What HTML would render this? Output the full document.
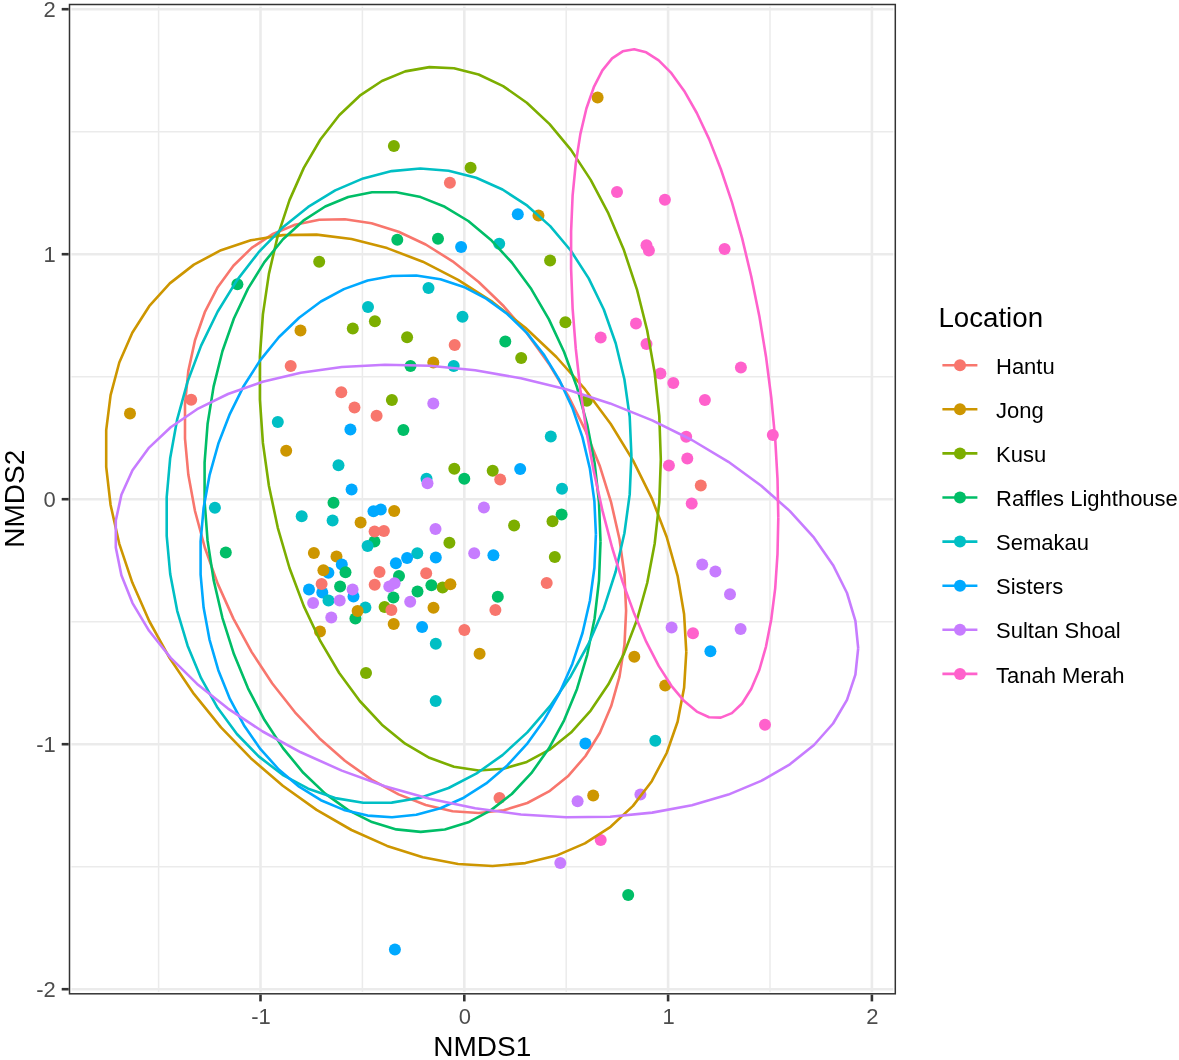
<!DOCTYPE html><html><head><meta charset="utf-8"><title>NMDS</title><style>html,body{margin:0;padding:0;background:#fff}svg{display:block}text{font-family:"Liberation Sans",Arial,Helvetica,sans-serif}</style></head><body>
<svg width="1179" height="1060" viewBox="0 0 1179 1060">
<rect width="1179" height="1060" fill="#fff"/>
<defs><clipPath id="cp"><rect x="69.5" y="4.5" width="825.8" height="989.3"/></clipPath></defs>
<g clip-path="url(#cp)">
<g stroke="#ebebeb" stroke-width="1.5" fill="none">
<line x1="158.6" y1="4.5" x2="158.6" y2="993.9"/>
<line x1="69.5" y1="866.7" x2="895.3" y2="866.7"/>
<line x1="362.4" y1="4.5" x2="362.4" y2="993.9"/>
<line x1="69.5" y1="621.7" x2="895.3" y2="621.7"/>
<line x1="566.2" y1="4.5" x2="566.2" y2="993.9"/>
<line x1="69.5" y1="376.7" x2="895.3" y2="376.7"/>
<line x1="770.0" y1="4.5" x2="770.0" y2="993.9"/>
<line x1="69.5" y1="131.7" x2="895.3" y2="131.7"/>
</g>
<g stroke="#ebebeb" stroke-width="2.6" fill="none">
<line x1="260.5" y1="4.5" x2="260.5" y2="993.9"/>
<line x1="464.3" y1="4.5" x2="464.3" y2="993.9"/>
<line x1="668.1" y1="4.5" x2="668.1" y2="993.9"/>
<line x1="871.9" y1="4.5" x2="871.9" y2="993.9"/>
<line x1="69.5" y1="989.2" x2="895.3" y2="989.2"/>
<line x1="69.5" y1="744.2" x2="895.3" y2="744.2"/>
<line x1="69.5" y1="499.2" x2="895.3" y2="499.2"/>
<line x1="69.5" y1="254.2" x2="895.3" y2="254.2"/>
<line x1="69.5" y1="9.2" x2="895.3" y2="9.2"/>
</g>
<rect x="70.85" y="5.95" width="823.05" height="986.50" fill="none" stroke="#fff" stroke-width="1.3"/>
<g stroke="none">
<circle cx="393.9" cy="146.0" r="6" fill="#7CAE00"/>
<circle cx="397.3" cy="239.7" r="6" fill="#00BE67"/>
<circle cx="319.2" cy="261.8" r="6" fill="#7CAE00"/>
<circle cx="237.4" cy="284.2" r="6" fill="#00BE67"/>
<circle cx="368.0" cy="307.0" r="6" fill="#00BFC4"/>
<circle cx="374.9" cy="321.2" r="6" fill="#7CAE00"/>
<circle cx="352.8" cy="328.4" r="6" fill="#7CAE00"/>
<circle cx="300.5" cy="330.4" r="6" fill="#CD9600"/>
<circle cx="597.6" cy="97.5" r="6" fill="#CD9600"/>
<circle cx="470.6" cy="167.7" r="6" fill="#7CAE00"/>
<circle cx="449.9" cy="182.7" r="6" fill="#F8766D"/>
<circle cx="617.0" cy="191.9" r="6" fill="#FF61CC"/>
<circle cx="664.9" cy="199.7" r="6" fill="#FF61CC"/>
<circle cx="517.8" cy="214.3" r="6" fill="#00A9FF"/>
<circle cx="538.5" cy="215.6" r="6" fill="#CD9600"/>
<circle cx="438.0" cy="238.7" r="6" fill="#00BE67"/>
<circle cx="461.1" cy="246.9" r="6" fill="#00A9FF"/>
<circle cx="499.2" cy="243.8" r="6" fill="#00BFC4"/>
<circle cx="646.5" cy="245.2" r="6" fill="#FF61CC"/>
<circle cx="648.9" cy="250.6" r="6" fill="#FF61CC"/>
<circle cx="724.6" cy="248.9" r="6" fill="#FF61CC"/>
<circle cx="550.1" cy="260.4" r="6" fill="#7CAE00"/>
<circle cx="428.5" cy="288.0" r="6" fill="#00BFC4"/>
<circle cx="462.5" cy="316.8" r="6" fill="#00BFC4"/>
<circle cx="565.4" cy="322.2" r="6" fill="#7CAE00"/>
<circle cx="636.0" cy="323.6" r="6" fill="#FF61CC"/>
<circle cx="600.7" cy="337.5" r="6" fill="#FF61CC"/>
<circle cx="646.5" cy="344.0" r="6" fill="#FF61CC"/>
<circle cx="407.1" cy="337.2" r="6" fill="#7CAE00"/>
<circle cx="454.7" cy="345.0" r="6" fill="#F8766D"/>
<circle cx="505.3" cy="341.6" r="6" fill="#00BE67"/>
<circle cx="521.2" cy="358.0" r="6" fill="#7CAE00"/>
<circle cx="433.3" cy="362.5" r="6" fill="#CD9600"/>
<circle cx="290.7" cy="366.1" r="6" fill="#F8766D"/>
<circle cx="130.0" cy="413.6" r="6" fill="#CD9600"/>
<circle cx="191.2" cy="399.7" r="6" fill="#F8766D"/>
<circle cx="341.3" cy="392.3" r="6" fill="#F8766D"/>
<circle cx="354.5" cy="407.5" r="6" fill="#F8766D"/>
<circle cx="376.6" cy="415.7" r="6" fill="#F8766D"/>
<circle cx="391.9" cy="400.0" r="6" fill="#7CAE00"/>
<circle cx="277.8" cy="422.1" r="6" fill="#00BFC4"/>
<circle cx="350.4" cy="429.6" r="6" fill="#00A9FF"/>
<circle cx="286.2" cy="450.7" r="6" fill="#CD9600"/>
<circle cx="338.5" cy="465.3" r="6" fill="#00BFC4"/>
<circle cx="214.9" cy="507.7" r="6" fill="#00BFC4"/>
<circle cx="225.8" cy="552.5" r="6" fill="#00BE67"/>
<circle cx="366.0" cy="673.1" r="6" fill="#7CAE00"/>
<circle cx="410.5" cy="366.1" r="6" fill="#00BE67"/>
<circle cx="453.7" cy="366.1" r="6" fill="#00BFC4"/>
<circle cx="660.4" cy="373.6" r="6" fill="#FF61CC"/>
<circle cx="673.3" cy="383.1" r="6" fill="#FF61CC"/>
<circle cx="740.9" cy="367.5" r="6" fill="#FF61CC"/>
<circle cx="704.9" cy="400.1" r="6" fill="#FF61CC"/>
<circle cx="586.8" cy="400.7" r="6" fill="#7CAE00"/>
<circle cx="433.3" cy="403.5" r="6" fill="#C77CFF"/>
<circle cx="403.4" cy="430.0" r="6" fill="#00BE67"/>
<circle cx="550.8" cy="436.4" r="6" fill="#00BFC4"/>
<circle cx="686.2" cy="436.7" r="6" fill="#FF61CC"/>
<circle cx="772.8" cy="435.0" r="6" fill="#FF61CC"/>
<circle cx="687.3" cy="458.5" r="6" fill="#FF61CC"/>
<circle cx="668.9" cy="465.6" r="6" fill="#FF61CC"/>
<circle cx="700.8" cy="485.6" r="6" fill="#F8766D"/>
<circle cx="691.7" cy="503.6" r="6" fill="#FF61CC"/>
<circle cx="454.3" cy="468.7" r="6" fill="#7CAE00"/>
<circle cx="464.3" cy="478.8" r="6" fill="#00BE67"/>
<circle cx="492.7" cy="470.7" r="6" fill="#7CAE00"/>
<circle cx="500.2" cy="479.5" r="6" fill="#F8766D"/>
<circle cx="520.2" cy="469.0" r="6" fill="#00A9FF"/>
<circle cx="426.5" cy="478.8" r="6" fill="#00BFC4"/>
<circle cx="427.5" cy="483.2" r="6" fill="#C77CFF"/>
<circle cx="562.0" cy="488.7" r="6" fill="#00BFC4"/>
<circle cx="561.6" cy="514.5" r="6" fill="#00BE67"/>
<circle cx="552.5" cy="521.3" r="6" fill="#7CAE00"/>
<circle cx="514.1" cy="525.4" r="6" fill="#7CAE00"/>
<circle cx="554.8" cy="556.9" r="6" fill="#7CAE00"/>
<circle cx="546.7" cy="583.1" r="6" fill="#F8766D"/>
<circle cx="497.8" cy="596.7" r="6" fill="#00BE67"/>
<circle cx="702.2" cy="564.4" r="6" fill="#C77CFF"/>
<circle cx="715.4" cy="571.5" r="6" fill="#C77CFF"/>
<circle cx="730.0" cy="594.3" r="6" fill="#C77CFF"/>
<circle cx="671.6" cy="627.6" r="6" fill="#C77CFF"/>
<circle cx="693.0" cy="633.3" r="6" fill="#FF61CC"/>
<circle cx="740.6" cy="628.9" r="6" fill="#C77CFF"/>
<circle cx="710.4" cy="651.3" r="6" fill="#00A9FF"/>
<circle cx="634.3" cy="656.8" r="6" fill="#CD9600"/>
<circle cx="665.2" cy="685.6" r="6" fill="#CD9600"/>
<circle cx="435.7" cy="701.0" r="6" fill="#00BFC4"/>
<circle cx="394.9" cy="949.6" r="6" fill="#00A9FF"/>
<circle cx="585.4" cy="743.5" r="6" fill="#00A9FF"/>
<circle cx="655.3" cy="740.7" r="6" fill="#00BFC4"/>
<circle cx="765.0" cy="724.8" r="6" fill="#FF61CC"/>
<circle cx="499.5" cy="798.1" r="6" fill="#F8766D"/>
<circle cx="577.6" cy="801.2" r="6" fill="#C77CFF"/>
<circle cx="593.2" cy="795.4" r="6" fill="#CD9600"/>
<circle cx="640.4" cy="794.4" r="6" fill="#C77CFF"/>
<circle cx="600.7" cy="839.9" r="6" fill="#FF61CC"/>
<circle cx="560.3" cy="863.0" r="6" fill="#C77CFF"/>
<circle cx="628.2" cy="894.9" r="6" fill="#00BE67"/>
<circle cx="351.6" cy="489.5" r="6" fill="#00A9FF"/>
<circle cx="333.5" cy="502.8" r="6" fill="#00BE67"/>
<circle cx="301.7" cy="516.2" r="6" fill="#00BFC4"/>
<circle cx="332.6" cy="520.4" r="6" fill="#00BFC4"/>
<circle cx="373.5" cy="511.2" r="6" fill="#00A9FF"/>
<circle cx="380.8" cy="509.4" r="6" fill="#00A9FF"/>
<circle cx="394.2" cy="510.9" r="6" fill="#CD9600"/>
<circle cx="483.9" cy="507.5" r="6" fill="#C77CFF"/>
<circle cx="360.6" cy="522.4" r="6" fill="#CD9600"/>
<circle cx="374.4" cy="541.5" r="6" fill="#00BE67"/>
<circle cx="374.6" cy="531.4" r="6" fill="#F8766D"/>
<circle cx="383.9" cy="530.9" r="6" fill="#F8766D"/>
<circle cx="367.6" cy="545.9" r="6" fill="#00BFC4"/>
<circle cx="435.5" cy="528.9" r="6" fill="#C77CFF"/>
<circle cx="449.4" cy="542.8" r="6" fill="#7CAE00"/>
<circle cx="474.2" cy="553.3" r="6" fill="#C77CFF"/>
<circle cx="493.4" cy="555.2" r="6" fill="#00A9FF"/>
<circle cx="313.9" cy="553.0" r="6" fill="#CD9600"/>
<circle cx="336.5" cy="556.6" r="6" fill="#CD9600"/>
<circle cx="341.8" cy="564.4" r="6" fill="#00A9FF"/>
<circle cx="345.5" cy="572.2" r="6" fill="#00BE67"/>
<circle cx="328.4" cy="572.7" r="6" fill="#00A9FF"/>
<circle cx="323.4" cy="570.2" r="6" fill="#CD9600"/>
<circle cx="417.3" cy="553.2" r="6" fill="#00BFC4"/>
<circle cx="407.1" cy="558.1" r="6" fill="#00A9FF"/>
<circle cx="395.9" cy="563.2" r="6" fill="#00A9FF"/>
<circle cx="435.8" cy="557.4" r="6" fill="#00A9FF"/>
<circle cx="379.5" cy="571.9" r="6" fill="#F8766D"/>
<circle cx="399.0" cy="575.9" r="6" fill="#00BE67"/>
<circle cx="426.2" cy="573.2" r="6" fill="#F8766D"/>
<circle cx="309.0" cy="589.5" r="6" fill="#00A9FF"/>
<circle cx="322.3" cy="592.4" r="6" fill="#00A9FF"/>
<circle cx="321.6" cy="583.9" r="6" fill="#F8766D"/>
<circle cx="340.1" cy="586.6" r="6" fill="#00BE67"/>
<circle cx="353.5" cy="596.5" r="6" fill="#00A9FF"/>
<circle cx="352.6" cy="589.5" r="6" fill="#C77CFF"/>
<circle cx="374.7" cy="584.8" r="6" fill="#F8766D"/>
<circle cx="389.3" cy="586.6" r="6" fill="#C77CFF"/>
<circle cx="394.6" cy="583.2" r="6" fill="#C77CFF"/>
<circle cx="393.4" cy="597.5" r="6" fill="#00BE67"/>
<circle cx="417.5" cy="591.5" r="6" fill="#00BE67"/>
<circle cx="431.4" cy="585.3" r="6" fill="#00BE67"/>
<circle cx="442.6" cy="587.6" r="6" fill="#7CAE00"/>
<circle cx="450.4" cy="584.2" r="6" fill="#CD9600"/>
<circle cx="313.1" cy="603.1" r="6" fill="#C77CFF"/>
<circle cx="328.5" cy="600.5" r="6" fill="#00BFC4"/>
<circle cx="339.7" cy="600.5" r="6" fill="#C77CFF"/>
<circle cx="410.2" cy="601.7" r="6" fill="#C77CFF"/>
<circle cx="365.4" cy="607.5" r="6" fill="#00BFC4"/>
<circle cx="355.4" cy="618.4" r="6" fill="#00BE67"/>
<circle cx="357.6" cy="611.1" r="6" fill="#CD9600"/>
<circle cx="384.6" cy="607.0" r="6" fill="#7CAE00"/>
<circle cx="391.4" cy="610.1" r="6" fill="#F8766D"/>
<circle cx="433.5" cy="607.8" r="6" fill="#CD9600"/>
<circle cx="331.3" cy="617.5" r="6" fill="#C77CFF"/>
<circle cx="393.7" cy="624.1" r="6" fill="#CD9600"/>
<circle cx="422.1" cy="627.0" r="6" fill="#00A9FF"/>
<circle cx="464.4" cy="629.9" r="6" fill="#F8766D"/>
<circle cx="320.0" cy="631.6" r="6" fill="#CD9600"/>
<circle cx="435.8" cy="643.8" r="6" fill="#00BFC4"/>
<circle cx="479.6" cy="653.7" r="6" fill="#CD9600"/>
<circle cx="495.4" cy="609.9" r="6" fill="#F8766D"/>
</g>
<g fill="none" stroke-width="2.6" stroke-linejoin="round">
<path d="M626.1 610.8 L624.5 644.6 L619.5 676.6 L611.2 706.1 L599.9 732.7 L585.5 756.0 L568.5 775.7 L549.0 791.4 L527.3 803.0 L503.8 810.2 L478.7 813.0 L452.6 811.2 L425.7 805.0 L398.6 794.4 L371.5 779.6 L344.9 760.8 L319.3 738.2 L295.0 712.3 L272.3 683.5 L251.7 652.1 L233.4 618.6 L217.7 583.6 L204.8 547.5 L195.0 511.0 L188.3 474.5 L185.0 438.7 L185.0 404.0 L188.3 371.1 L195.0 340.3 L204.8 312.2 L217.7 287.2 L233.4 265.7 L251.7 247.9 L272.3 234.3 L295.0 224.8 L319.3 219.8 L344.9 219.3 L371.5 223.3 L398.6 231.7 L425.7 244.5 L452.6 261.3 L478.7 282.0 L503.8 306.3 L527.3 333.7 L549.0 363.9 L568.5 396.4 L585.5 430.7 L599.9 466.3 L611.2 502.7 L619.5 539.3 L624.5 575.5 L626.1 610.8" stroke="#F8766D"/>
<path d="M686.3 651.9 L684.1 687.8 L677.6 721.7 L666.7 753.0 L651.8 781.2 L633.0 805.9 L610.6 826.8 L584.9 843.4 L556.4 855.6 L525.4 863.1 L492.5 866.0 L458.1 864.0 L422.8 857.2 L387.1 845.9 L351.5 830.0 L316.6 809.9 L282.8 785.8 L250.8 758.2 L221.0 727.4 L193.9 693.9 L169.8 658.3 L149.2 621.0 L132.3 582.6 L119.3 543.8 L110.6 505.0 L106.2 466.9 L106.2 430.1 L110.6 395.1 L119.3 362.5 L132.3 332.7 L149.2 306.2 L169.8 283.4 L193.9 264.6 L221.0 250.2 L250.8 240.3 L282.8 235.1 L316.6 234.6 L351.5 239.0 L387.1 248.1 L422.8 261.7 L458.1 279.8 L492.5 301.9 L525.4 327.8 L556.4 357.0 L584.9 389.2 L610.6 423.8 L633.0 460.4 L651.8 498.3 L666.7 537.0 L677.6 575.8 L684.1 614.3 L686.3 651.9" stroke="#CD9600"/>
<path d="M660.8 459.5 L659.3 502.1 L654.7 543.5 L647.2 583.0 L636.9 620.0 L623.9 653.9 L608.4 684.3 L590.7 710.6 L571.0 732.6 L549.6 749.7 L526.8 761.9 L503.1 768.8 L478.6 770.5 L454.0 766.8 L429.4 757.8 L405.2 743.7 L381.9 724.7 L359.8 701.0 L339.2 673.0 L320.4 641.2 L303.8 606.1 L289.5 568.0 L277.8 527.8 L268.9 485.8 L262.9 442.9 L259.9 399.6 L259.9 356.5 L262.9 314.4 L268.9 273.9 L277.8 235.6 L289.5 200.1 L303.8 167.9 L320.4 139.5 L339.2 115.3 L359.8 95.7 L381.9 81.0 L405.2 71.4 L429.4 67.1 L454.0 68.2 L478.6 74.5 L503.1 86.1 L526.8 102.7 L549.6 124.1 L571.0 149.9 L590.7 179.9 L608.4 213.4 L623.9 250.1 L636.9 289.3 L647.2 330.5 L654.7 373.0 L659.3 416.2 L660.8 459.5" stroke="#7CAE00"/>
<path d="M600.5 541.6 L599.0 580.6 L594.6 618.5 L587.2 654.8 L577.0 688.9 L564.1 720.3 L548.8 748.6 L531.3 773.2 L511.8 794.0 L490.7 810.4 L468.3 822.3 L444.8 829.5 L420.7 831.9 L396.3 829.4 L372.0 822.1 L348.2 810.1 L325.2 793.6 L303.3 772.8 L283.0 748.1 L264.4 719.8 L248.0 688.3 L233.9 654.1 L222.4 617.8 L213.6 579.9 L207.6 540.9 L204.6 501.5 L204.6 462.3 L207.6 423.8 L213.6 386.6 L222.4 351.3 L233.9 318.5 L248.0 288.6 L264.4 262.1 L283.0 239.3 L303.3 220.7 L325.2 206.5 L348.2 197.0 L372.0 192.2 L396.3 192.2 L420.7 197.1 L444.8 206.8 L468.3 221.0 L490.7 239.7 L511.8 262.5 L531.3 289.1 L548.8 319.1 L564.1 352.0 L577.0 387.3 L587.2 424.5 L594.6 463.0 L599.0 502.2 L600.5 541.6" stroke="#00BE67"/>
<path d="M631.4 455.3 L629.7 494.4 L624.4 533.3 L615.7 571.5 L603.8 608.4 L588.7 643.5 L570.7 676.2 L550.2 705.9 L527.3 732.4 L502.5 755.1 L476.2 773.7 L448.6 788.0 L420.3 797.7 L391.7 802.6 L363.2 802.8 L335.2 798.1 L308.2 788.7 L282.6 774.8 L258.7 756.4 L236.9 734.0 L217.6 707.8 L201.1 678.2 L187.6 645.7 L177.2 610.8 L170.2 574.0 L166.7 535.9 L166.7 497.0 L170.2 457.9 L177.2 419.3 L187.6 381.6 L201.1 345.6 L217.6 311.7 L236.9 280.4 L258.7 252.2 L282.6 227.6 L308.2 206.9 L335.2 190.4 L363.2 178.4 L391.7 171.1 L420.3 168.5 L448.6 170.8 L476.2 177.8 L502.5 189.5 L527.3 205.7 L550.2 226.1 L570.7 250.5 L588.7 278.4 L603.8 309.5 L615.7 343.3 L624.4 379.2 L629.7 416.8 L631.4 455.3" stroke="#00BFC4"/>
<path d="M595.9 534.4 L594.4 567.8 L589.9 600.8 L582.5 633.0 L572.3 663.9 L559.5 693.1 L544.2 719.9 L526.8 744.2 L507.3 765.4 L486.2 783.4 L463.8 797.7 L440.4 808.2 L416.3 814.8 L392.0 817.3 L367.7 815.6 L343.9 809.9 L320.9 800.2 L299.1 786.7 L278.8 769.5 L260.3 748.9 L243.9 725.2 L229.9 698.9 L218.3 670.2 L209.5 639.6 L203.6 607.6 L200.6 574.7 L200.6 541.4 L203.6 508.1 L209.5 475.4 L218.3 443.8 L229.9 413.8 L243.9 385.7 L260.3 360.1 L278.8 337.3 L299.1 317.7 L320.9 301.5 L343.9 289.1 L367.7 280.5 L392.0 276.0 L416.3 275.5 L440.4 279.2 L463.8 286.9 L486.2 298.6 L507.3 314.0 L526.8 332.9 L544.2 355.1 L559.5 380.2 L572.3 407.7 L582.5 437.4 L589.9 468.7 L594.4 501.2 L595.9 534.4" stroke="#00A9FF"/>
<path d="M858.2 648.2 L855.4 674.7 L847.0 699.9 L833.1 723.5 L814.0 745.0 L789.9 764.3 L761.2 780.9 L728.4 794.6 L691.9 805.2 L652.2 812.6 L610.1 816.7 L566.1 817.3 L520.9 814.5 L475.2 808.3 L429.6 798.8 L384.9 786.2 L341.8 770.6 L300.8 752.3 L262.7 731.5 L228.0 708.6 L197.1 683.9 L170.7 657.9 L149.1 630.8 L132.5 603.1 L121.4 575.2 L115.8 547.6 L115.8 520.6 L121.4 494.7 L132.5 470.2 L149.1 447.6 L170.7 427.2 L197.1 409.2 L228.0 394.0 L262.7 381.8 L300.8 372.8 L341.8 367.0 L384.9 364.7 L429.6 365.8 L475.2 370.3 L520.9 378.2 L566.1 389.3 L610.1 403.4 L652.2 420.4 L691.9 440.0 L728.4 461.8 L761.2 485.7 L789.9 511.1 L814.0 537.7 L833.1 565.2 L847.0 593.0 L855.4 620.8 L858.2 648.2" stroke="#C77CFF"/>
<path d="M778.3 517.6 L777.5 554.2 L775.2 588.3 L771.3 619.2 L766.0 646.6 L759.3 670.0 L751.2 689.0 L742.1 703.5 L731.9 713.1 L720.8 717.6 L709.1 717.2 L696.8 711.6 L684.2 701.1 L671.4 685.8 L658.7 665.9 L646.2 641.7 L634.2 613.6 L622.7 582.1 L612.1 547.5 L602.4 510.4 L593.8 471.4 L586.4 431.1 L580.4 390.0 L575.8 348.9 L572.6 308.3 L571.1 268.8 L571.1 231.1 L572.6 195.7 L575.8 163.1 L580.4 133.9 L586.4 108.5 L593.8 87.2 L602.4 70.4 L612.1 58.4 L622.7 51.3 L634.2 49.2 L646.2 52.3 L658.7 60.3 L671.4 73.2 L684.2 90.9 L696.8 113.0 L709.1 139.1 L720.8 169.0 L731.9 202.2 L742.1 238.1 L751.2 276.2 L759.3 315.9 L766.0 356.7 L771.3 397.8 L775.2 438.8 L777.5 478.9 L778.3 517.6" stroke="#FF61CC"/>
</g>
</g>
<rect x="69.5" y="4.5" width="825.8" height="989.3" fill="none" stroke="#333" stroke-width="1.5"/>
<g stroke="#333" stroke-width="2.6" fill="none">
<line x1="260.5" y1="994.6" x2="260.5" y2="1001.4"/>
<line x1="464.3" y1="994.6" x2="464.3" y2="1001.4"/>
<line x1="668.1" y1="994.6" x2="668.1" y2="1001.4"/>
<line x1="871.9" y1="994.6" x2="871.9" y2="1001.4"/>
<line x1="61.7" y1="989.2" x2="68.7" y2="989.2"/>
<line x1="61.7" y1="744.2" x2="68.7" y2="744.2"/>
<line x1="61.7" y1="499.2" x2="68.7" y2="499.2"/>
<line x1="61.7" y1="254.2" x2="68.7" y2="254.2"/>
<line x1="61.7" y1="9.2" x2="68.7" y2="9.2"/>
</g>
<g font-size="22" fill="#4D4D4D">
<text x="261.0" y="1024" text-anchor="middle">-1</text>
<text x="464.8" y="1024" text-anchor="middle">0</text>
<text x="668.6" y="1024" text-anchor="middle">1</text>
<text x="872.4" y="1024" text-anchor="middle">2</text>
<text x="55.8" y="997.4" text-anchor="end">-2</text>
<text x="55.8" y="752.4" text-anchor="end">-1</text>
<text x="55.8" y="507.4" text-anchor="end">0</text>
<text x="55.8" y="262.4" text-anchor="end">1</text>
<text x="55.8" y="17.4" text-anchor="end">2</text>
</g>
<text x="482.3" y="1056" font-size="28" text-anchor="middle" fill="#000">NMDS1</text>
<text transform="translate(23.8,498.8) rotate(-90)" font-size="28" text-anchor="middle" fill="#000">NMDS2</text>
<text x="938.4" y="326.5" font-size="27.7" fill="#000">Location</text>
<line x1="942.4" y1="365.2" x2="977.4" y2="365.2" stroke="#F8766D" stroke-width="2.6"/>
<circle cx="960" cy="365.2" r="6" fill="#F8766D"/>
<text x="996" y="373.8" font-size="22" fill="#000">Hantu</text>
<line x1="942.4" y1="409.3" x2="977.4" y2="409.3" stroke="#CD9600" stroke-width="2.6"/>
<circle cx="960" cy="409.3" r="6" fill="#CD9600"/>
<text x="996" y="417.9" font-size="22" fill="#000">Jong</text>
<line x1="942.4" y1="453.4" x2="977.4" y2="453.4" stroke="#7CAE00" stroke-width="2.6"/>
<circle cx="960" cy="453.4" r="6" fill="#7CAE00"/>
<text x="996" y="462.0" font-size="22" fill="#000">Kusu</text>
<line x1="942.4" y1="497.5" x2="977.4" y2="497.5" stroke="#00BE67" stroke-width="2.6"/>
<circle cx="960" cy="497.5" r="6" fill="#00BE67"/>
<text x="996" y="506.1" font-size="22" fill="#000">Raffles Lighthouse</text>
<line x1="942.4" y1="541.6" x2="977.4" y2="541.6" stroke="#00BFC4" stroke-width="2.6"/>
<circle cx="960" cy="541.6" r="6" fill="#00BFC4"/>
<text x="996" y="550.2" font-size="22" fill="#000">Semakau</text>
<line x1="942.4" y1="585.7" x2="977.4" y2="585.7" stroke="#00A9FF" stroke-width="2.6"/>
<circle cx="960" cy="585.7" r="6" fill="#00A9FF"/>
<text x="996" y="594.3" font-size="22" fill="#000">Sisters</text>
<line x1="942.4" y1="629.8" x2="977.4" y2="629.8" stroke="#C77CFF" stroke-width="2.6"/>
<circle cx="960" cy="629.8" r="6" fill="#C77CFF"/>
<text x="996" y="638.4" font-size="22" fill="#000">Sultan Shoal</text>
<line x1="942.4" y1="673.9" x2="977.4" y2="673.9" stroke="#FF61CC" stroke-width="2.6"/>
<circle cx="960" cy="673.9" r="6" fill="#FF61CC"/>
<text x="996" y="682.5" font-size="22" fill="#000">Tanah Merah</text>
</svg></body></html>
